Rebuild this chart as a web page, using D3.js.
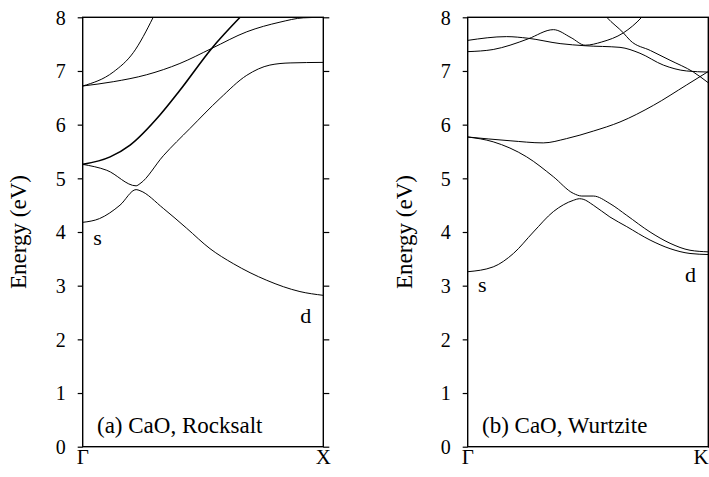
<!DOCTYPE html>
<html>
<head>
<meta charset="utf-8">
<script src="https://cdn.jsdelivr.net/npm/d3@7/dist/d3.min.js"></script>
<style>
  body { margin: 0; background: #fff; }
</style>
</head>
<body>
<div id="chart"></div>
<script>
// band energies, [k, E] with k = 0 at Gamma and 1 at the zone edge
var rocksaltS = [[0,4.18],[0.07,4.25],[0.155,4.50],[0.222,4.79],[0.238,4.77],[0.335,4.44],[0.432,4.07],[0.529,3.69],[0.626,3.41],[0.765,3.10],[0.903,2.89],[1,2.82]];
var rocksaltD1 = [[0,5.26],[0.1,5.15],[0.222,4.86],[0.238,4.9],[0.335,5.42],[0.446,5.93],[0.571,6.49],[0.682,6.92],[0.778,7.11],[0.862,7.15],[1,7.16]];
var rocksaltD2 = [[0,5.26],[0.114,5.40],[0.197,5.62],[0.321,6.18],[0.404,6.64],[0.536,7.42],[0.654,8.0],[0.72,8.3]];
var rocksaltUp1 = [[0,6.72],[0.127,6.98],[0.21,7.34],[0.293,8.0],[0.32,8.25]];
var rocksaltUp2 = [[0,6.72],[0.127,6.80],[0.266,6.93],[0.404,7.14],[0.536,7.42],[0.682,7.73],[0.82,7.91],[0.917,7.99],[1,8.0]];

var wurtziteS = [[0,3.26],[0.106,3.35],[0.19,3.60],[0.273,4.00],[0.356,4.38],[0.439,4.59],[0.465,4.62],[0.48,4.61],[0.522,4.50],[0.591,4.28],[0.661,4.10],[0.758,3.85],[0.841,3.69],[0.924,3.60],[1,3.58]];
var wurtziteD1 = [[0,5.77],[0.106,5.68],[0.245,5.40],[0.356,5.03],[0.439,4.72],[0.474,4.67],[0.522,4.67],[0.591,4.53],[0.661,4.31],[0.758,4.00],[0.841,3.79],[0.924,3.66],[1,3.63]];
var wurtziteD2 = [[0,5.77],[0.176,5.70],[0.314,5.66],[0.411,5.74],[0.522,5.88],[0.633,6.05],[0.772,6.36],[0.91,6.74],[1,6.99]];
var wurtziteUp1 = [[0,7.36],[0.106,7.40],[0.176,7.48],[0.252,7.60],[0.356,7.77],[0.43,7.62],[0.488,7.48],[0.557,7.54],[0.647,7.71],[0.723,8.0],[0.76,8.2]];
var wurtziteUp2 = [[0,7.57],[0.162,7.64],[0.25,7.61],[0.384,7.51],[0.488,7.47],[0.633,7.44],[0.716,7.33],[0.813,7.11],[0.91,7.00],[1,6.98]];
var wurtziteUp3 = [[0.55,8.15],[0.578,8.0],[0.647,7.71],[0.675,7.57],[0.76,7.38],[0.841,7.20],[0.938,6.98],[1,6.78]];

var energyTicks = [0, 1, 2, 3, 4, 5, 6, 7, 8];
var rocksaltPoints = ["Γ", "X"];
var wurtzitePoints = ["Γ", "K"];

var serif = "Liberation Serif, DejaVu Serif, serif";

var svg = d3.select("#chart")
  .append("svg")
  .attr("width", 709)
  .attr("height", 477)
  .attr("font-family", serif);

var width = 240.6,
  height = 429.4;

var x = d3.scaleLinear().domain([0, 1]).range([0, width]);
var y = d3.scaleLinear().domain([0, 8]).range([height, 0]);

var line = d3.line()
  .x(function(d) { return x(d[0]); })
  .y(function(d) { return y(d[1]); })
  .curve(d3.curveMonotoneX);

function label(g, px, py, str, size) {
  return g.append("text")
    .attr("x", px)
    .attr("y", py)
    .attr("font-family", serif)
    .attr("font-size", size)
    .attr("fill", "#000")
    .text(str);
}

function panel(id, left, bands, points, title) {
  var g = svg.append("g")
    .attr("transform", "translate(" + left + ",17.3)");

  g.append("clipPath")
    .attr("id", id)
    .append("rect")
    .attr("width", width)
    .attr("height", height);

  g.append("g")
    .attr("clip-path", "url(#" + id + ")")
    .selectAll("path")
    .data(bands)
    .enter()
    .append("path")
    .attr("d", function(d) { return line(d.values); })
    .attr("fill", "none")
    .attr("stroke", "#000")
    .attr("stroke-width", function(d) { return d.w; });

  // left axis with labels
  var yl = g.append("g")
    .call(d3.axisLeft(y).tickValues(energyTicks).tickSize(5).tickPadding(12))
    .attr("font-family", serif)
    .attr("font-size", 20);
  yl.select(".domain").remove();
  yl.selectAll("line").attr("stroke", "#000").attr("stroke-width", 1.2);
  yl.selectAll("text").attr("fill", "#000").attr("dy", "0.34em");

  // right axis, ticks only
  var yr = g.append("g")
    .attr("transform", "translate(" + width + ",0)")
    .call(d3.axisRight(y).tickValues(energyTicks).tickSize(6).tickFormat(""));
  yr.select(".domain").remove();
  yr.selectAll("line").attr("stroke", "#000").attr("stroke-width", 1.2);

  g.append("rect")
    .attr("width", width)
    .attr("height", height)
    .attr("fill", "none")
    .attr("stroke", "#000")
    .attr("stroke-width", 1.4);

  g.selectAll(".kpt")
    .data(points)
    .enter()
    .append("text")
    .attr("class", "kpt")
    .attr("x", function(d, i) { return i === 0 ? x(0) : Math.min(x(1), 701 - left); })
    .attr("y", height + 17)
    .attr("text-anchor", "middle")
    .attr("font-family", serif)
    .attr("font-size", 21)
    .attr("fill", "#000")
    .text(function(d) { return d; });

  g.append("text")
    .attr("transform", "translate(" + (-56.2) + "," + height / 2 + ") rotate(-90)")
    .attr("text-anchor", "middle")
    .attr("font-family", serif)
    .attr("font-size", 23)
    .attr("fill", "#000")
    .text("Energy (eV)");

  label(g, 14.3, height - 13.4, title, 23);

  return g;
}

var ga = panel("clipa", 82.7, [
  { values: rocksaltS, w: 1 },
  { values: rocksaltD1, w: 1 },
  { values: rocksaltD2, w: 1.6 },
  { values: rocksaltUp1, w: 1 },
  { values: rocksaltUp2, w: 1 }
], rocksaltPoints, "(a) CaO, Rocksalt");

label(ga, x(0.044), y(3.76), "s", 22);
label(ga, x(0.904), y(2.30), "d", 22);

var gb = panel("clipb", 467.7, [
  { values: wurtziteS, w: 1 },
  { values: wurtziteD1, w: 1 },
  { values: wurtziteD2, w: 1 },
  { values: wurtziteUp1, w: 1 },
  { values: wurtziteUp2, w: 1 },
  { values: wurtziteUp3, w: 1 }
], wurtzitePoints, "(b) CaO, Wurtzite");

label(gb, x(0.043), y(2.88), "s", 22);
label(gb, x(0.903), y(3.07), "d", 22);
</script>
</body>
</html>
